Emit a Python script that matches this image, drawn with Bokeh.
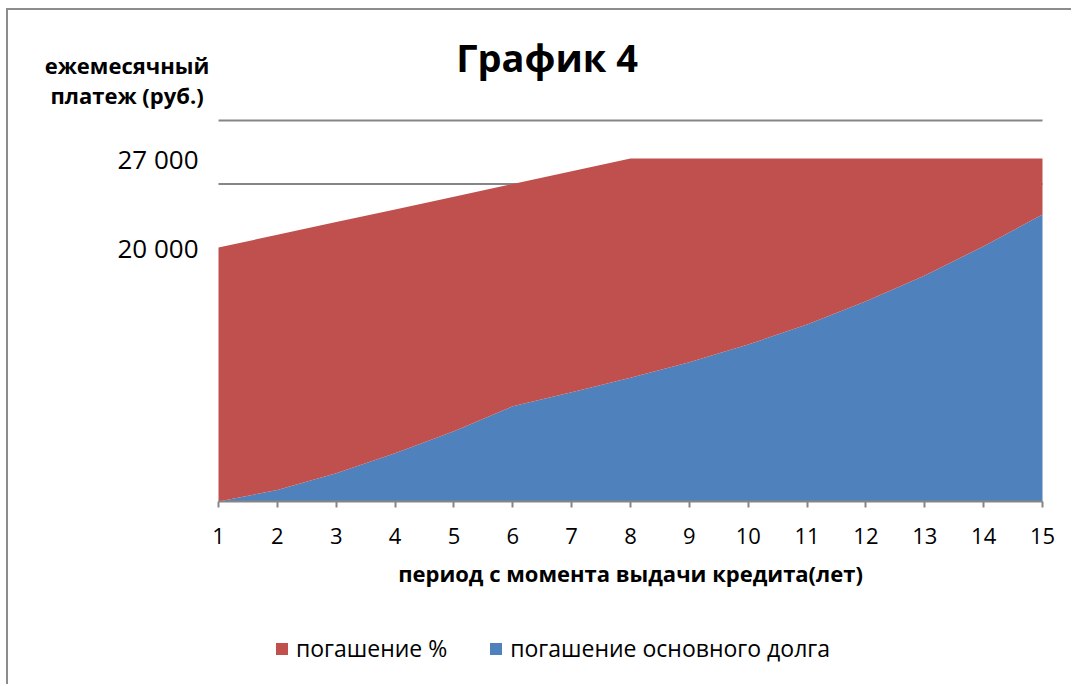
from bokeh.plotting import figure
from bokeh.models import (Range1d, FixedTicker, Label, Legend, LegendItem,
                          ColumnDataSource)
from bokeh.embed import file_html
from bokeh.resources import INLINE

# ---- data ----
years = [1, 2, 3, 4, 5, 6, 7, 8, 9, 10, 11, 12, 13, 14, 15]
principal = [0, 900, 2230, 3800, 5540, 7500, 8600, 9750, 10970, 12360,
             13940, 15770, 17800, 20100, 22600]          # погашение основного долга
interest = [20000, 20100, 19770, 19200, 18460, 17500, 17400, 17250, 16030,
            14640, 13060, 11230, 9200, 6900, 4400]        # погашение %
y_tick_values = [20000, 27000]
y_tick_labels = ["20 000", "27 000"]
grid_values = [25000, 30000]
series_names = ["погашение %", "погашение основного долга"]
title_text = "График 4"
y_title_lines = ["ежемесячный", "платеж (руб.)"]
x_title = "период с момента выдачи кредита(лет)"

RED = "#C0504D"
BLUE = "#4F81BD"
GREY = "#868686"
FONT = "Open Sans"

# ---- layout (page pixels) ----
W, H = 1065, 676            # canvas size
CX, CY = 8, 10              # canvas origin on the page
PL, PR, PT, PB = 218, 1042, 120, 501   # plot area edges on the page
Y_TOP = 30000

x_per_px = (years[-1] - years[0]) / (PR - PL)
x_start = years[0] - (PL - CX) * x_per_px
x_end = x_start + W * x_per_px
y_per_px = Y_TOP / (PB - PT)
y_end = Y_TOP + (PT - CY) * y_per_px
y_start = -(CY + H - PB) * y_per_px


def sx(px):
    return px - CX


def sy(py):
    return CY + H - py


source = ColumnDataSource(dict(x=years, principal=principal, interest=interest))

p = figure(width=W, height=H, output_backend="svg", toolbar_location=None,
           x_range=Range1d(x_start, x_end), y_range=Range1d(y_start, y_end),
           min_border=0, title_location=None)
p.outline_line_color = None
p.background_fill_color = "white"
p.border_fill_color = "white"
p.styles = {"border-left": "2px solid #8c8c8c", "border-top": "2px solid #8c8c8c",
            "margin-left": "6px", "margin-top": "8px"}
p.xgrid.visible = False
p.ygrid.visible = False

# horizontal gridlines (behind the areas)
p.segment(x0=[years[0]] * len(grid_values), x1=[years[-1]] * len(grid_values),
          y0=grid_values, y1=grid_values, line_color=GREY, line_width=2)

rs = p.varea_stack(["principal", "interest"], x="x", source=source,
                   color=[BLUE, RED])
r_blue, r_red = rs

# x axis at y=0
xa = p.xaxis[0]
xa.fixed_location = 0
xa.bounds = (years[0], years[-1])
xa.ticker = FixedTicker(ticks=years)
xa.axis_line_color = GREY
xa.axis_line_width = 2
xa.major_tick_line_color = GREY
xa.major_tick_line_width = 2
xa.major_tick_out = 6
xa.major_tick_in = 0
xa.minor_tick_line_color = None
xa.major_label_text_font = FONT
xa.major_label_text_font_size = "22px"
xa.major_label_text_color = "black"
xa.major_label_standoff = 20
xa.axis_label = x_title
xa.axis_label_text_font = FONT
xa.axis_label_text_font_size = "22px"
xa.axis_label_text_font_style = "bold"
xa.axis_label_text_color = "black"
xa.axis_label_standoff = 11

# y axis at x=1
ya = p.yaxis[0]
ya.fixed_location = years[0]
ya.ticker = FixedTicker(ticks=y_tick_values)
ya.major_label_overrides = dict(zip(y_tick_values, y_tick_labels))
ya.axis_line_color = None
ya.major_tick_line_color = None
ya.minor_tick_line_color = None
ya.major_label_text_font = FONT
ya.major_label_text_font_size = "26px"
ya.major_label_text_color = "black"
ya.major_label_standoff = 14

# title
p.add_layout(Label(x=sx(546.5), y=sy(56), x_units="screen", y_units="screen",
                   text=title_text, text_align="center", text_baseline="alphabetic",
                   text_font=FONT, text_font_size="38px",
                   text_font_style="bold", text_color="black"))
# y title (two lines)
for txt, py in zip(y_title_lines, [64, 94]):
    p.add_layout(Label(x=sx(126.5), y=sy(py), x_units="screen", y_units="screen",
                       text=txt, text_align="center", text_baseline="alphabetic",
                       text_font=FONT, text_font_size="22px",
                       text_font_style="bold", text_color="black"))

legend = Legend(items=[LegendItem(label=series_names[0], renderers=[r_red]),
                       LegendItem(label=series_names[1], renderers=[r_blue])],
                orientation="horizontal", location=(sx(274), sy(664)),
                glyph_width=15, glyph_height=15, label_standoff=7, spacing=41,
                padding=0, margin=0, border_line_color=None,
                background_fill_alpha=0,
                label_text_font=FONT, label_text_font_size="23px",
                label_text_color="black")
p.add_layout(legend, "center")

open("out.html", "w").write(file_html(p, INLINE))
